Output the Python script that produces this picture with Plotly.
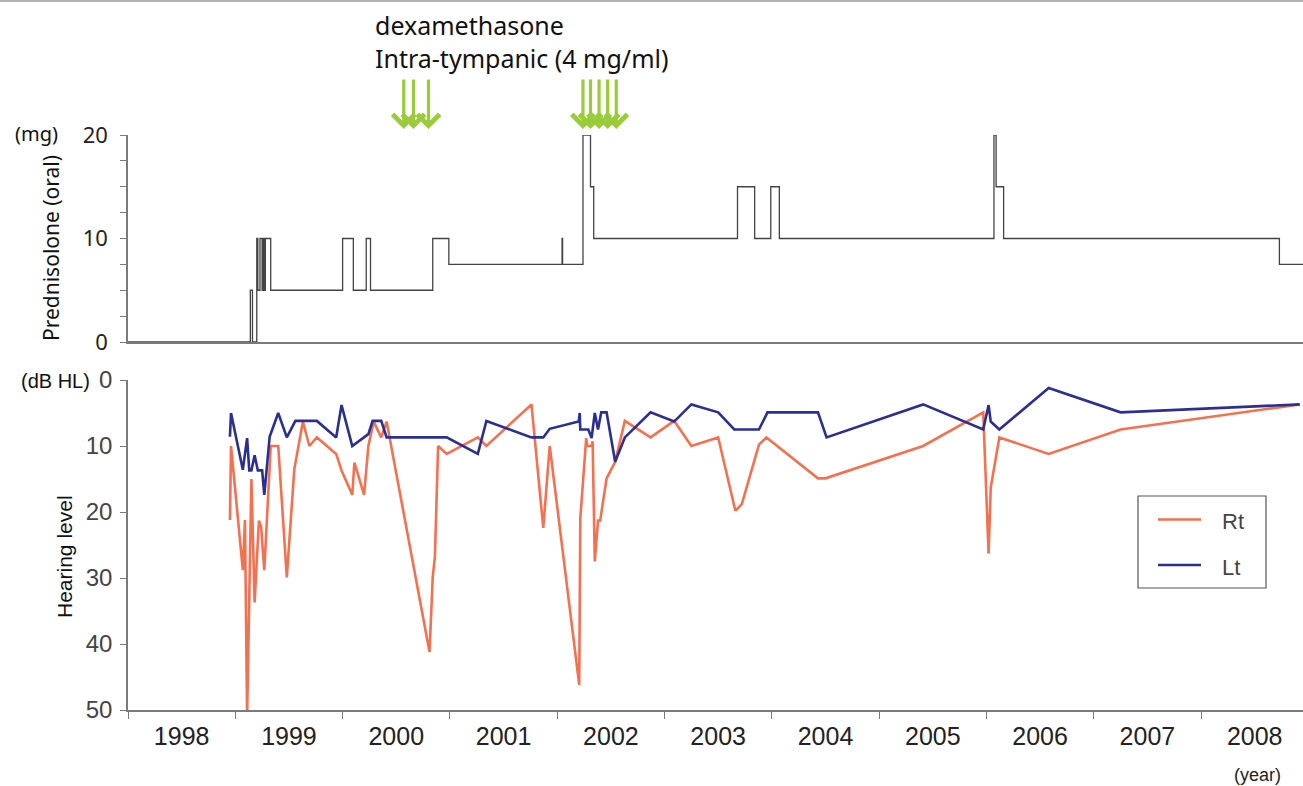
import plotly.graph_objects as go

W, H = 1303, 786

# ---------------- data ----------------
years = list(range(1998, 2009))
year_labels = [str(y) for y in years]

# oral prednisolone (mg), step changes
pred_year = [1998.00, 1999.14, 1999.16, 1999.20, 1999.21, 1999.23, 1999.25, 1999.26, 1999.27, 1999.28, 1999.33,
             2000.00, 2000.10, 2000.22, 2000.26, 2000.84, 2000.99, 2002.045, 2002.05, 2002.24, 2002.31, 2002.34,
             2003.68, 2003.84, 2003.99, 2004.07, 2006.07, 2006.09, 2006.16, 2008.73, 2008.95]
pred_mg = [0, 5, 0, 10, 5, 10, 5, 10, 5, 10, 5,
           10, 5, 10, 5, 10, 7.5, 10, 7.5, 20, 15, 10,
           15, 10, 15, 10, 20, 15, 10, 7.5, 7.5]

# hearing level, right ear (dB HL)
rt_year = [1998.95, 1998.96, 1999.07, 1999.09, 1999.11, 1999.15, 1999.18, 1999.22, 1999.24, 1999.27,
           1999.33, 1999.40, 1999.48, 1999.55, 1999.63, 1999.69, 1999.76, 1999.94, 1999.99, 2000.09,
           2000.11, 2000.20, 2000.24, 2000.29, 2000.36, 2000.41, 2000.81, 2000.84, 2000.86, 2000.89,
           2000.97, 2001.26, 2001.34, 2001.76, 2001.87, 2001.93, 2002.205, 2002.215, 2002.27, 2002.28,
           2002.32, 2002.33, 2002.35, 2002.38, 2002.40, 2002.46, 2002.54, 2002.63, 2002.87, 2003.09,
           2003.25, 2003.50, 2003.66, 2003.72, 2003.88, 2003.95, 2004.43, 2004.50, 2005.41, 2005.97,
           2006.02, 2006.04, 2006.12, 2006.58, 2007.25, 2008.92]
rt_db = [21.2, 10.0, 28.8, 21.2, 51.0, 15.0, 33.7, 21.3, 22.2, 28.8,
         10.0, 10.0, 29.9, 13.5, 6.3, 10.0, 8.7, 11.2, 13.7, 17.4,
         12.5, 17.4, 10.0, 6.3, 8.7, 6.3, 41.2, 29.8, 26.8, 10.0,
         11.2, 8.7, 10.0, 3.7, 22.4, 10.0, 46.2, 21.0, 8.8, 10.0,
         10.0, 9.3, 27.5, 21.3, 21.3, 14.9, 12.4, 6.2, 8.7, 6.2,
         10.0, 8.7, 19.8, 18.8, 9.8, 8.7, 14.9, 14.9, 10.0, 4.9,
         26.3, 16.3, 8.7, 11.2, 7.5, 3.7]

# hearing level, left ear (dB HL)
lt_year = [1998.95, 1998.96, 1999.07, 1999.11, 1999.13, 1999.15, 1999.18, 1999.21, 1999.25, 1999.27,
           1999.32, 1999.40, 1999.48, 1999.56, 1999.76, 1999.94, 1999.99, 2000.09, 2000.24, 2000.28,
           2000.36, 2000.41, 2000.97, 2001.26, 2001.34, 2001.76, 2001.87, 2001.93, 2002.20, 2002.21,
           2002.215, 2002.29, 2002.32, 2002.35, 2002.38, 2002.41, 2002.46, 2002.54, 2002.63, 2002.87,
           2003.09, 2003.25, 2003.50, 2003.65, 2003.88, 2003.96, 2004.43, 2004.51, 2005.41, 2005.97,
           2006.02, 2006.04, 2006.12, 2006.58, 2007.25, 2008.92]
lt_db = [8.6, 5.0, 13.6, 8.8, 13.7, 13.7, 11.4, 13.7, 13.7, 17.4,
         8.6, 5.0, 8.7, 6.2, 6.2, 8.7, 3.8, 10.0, 8.2, 6.2,
         6.2, 8.7, 8.7, 11.2, 6.2, 8.7, 8.7, 7.4, 6.3, 5.0,
         7.5, 7.5, 8.8, 5.0, 7.5, 4.9, 4.9, 12.4, 8.7, 4.9,
         6.3, 3.7, 4.9, 7.5, 7.5, 4.9, 4.9, 8.7, 3.7, 7.5,
         3.8, 6.3, 7.5, 1.2, 4.9, 3.7]

# intra-tympanic dexamethasone injections
inj_year = [2000.57, 2000.66, 2000.80, 2002.24, 2002.31, 2002.39, 2002.47, 2002.55]

series_names = ["Rt", "Lt"]

# ---------------- styles ----------------
RT_COLOR = "#F4714F"
LT_COLOR = "#2B2F8F"
PRED_COLOR = "#444444"
ARROW_COLOR = "#9ACB3A"
AXIS_COLOR = "#7a7a7a"
JP_FONT = "Noto Sans"
EN_FONT = "Liberation Sans"

X0_PX = 128


def px_x(p):
    return p / W


def px_y(p):
    return 1 - p / H


fig = go.Figure()

fig.add_trace(go.Scatter(x=pred_year, y=pred_mg, mode="lines",
                         line=dict(color=PRED_COLOR, width=1.3, shape="hv"),
                         xaxis="x", yaxis="y", showlegend=False, hoverinfo="skip"))
fig.add_trace(go.Scatter(x=rt_year, y=rt_db, mode="lines", name=series_names[0],
                         line=dict(color=RT_COLOR, width=2.6), xaxis="x2", yaxis="y2", showlegend=False))
fig.add_trace(go.Scatter(x=lt_year, y=lt_db, mode="lines", name=series_names[1],
                         line=dict(color=LT_COLOR, width=2.6), xaxis="x2", yaxis="y2", showlegend=False))

xrange = [1998, 2008.95]
xdom = [px_x(X0_PX), 1]

fig.update_layout(
    width=W, height=H, margin=dict(l=0, r=0, t=0, b=0, autoexpand=False),
    paper_bgcolor="white", plot_bgcolor="white", showlegend=False,
    xaxis=dict(domain=xdom, range=xrange, anchor="y", showgrid=False, zeroline=False, automargin=False,
               showline=True, linecolor=AXIS_COLOR, linewidth=1.5, ticks="", showticklabels=False),
    yaxis=dict(domain=[px_y(342), px_y(135)], range=[0, 20], anchor="x", showgrid=False, zeroline=False,
               automargin=False, showline=True, linecolor=AXIS_COLOR, linewidth=1.5,
               tickmode="array", tickvals=[0, 10, 20], ticks="outside", ticklen=6, tickcolor=AXIS_COLOR,
               ticklabelstandoff=8,
               minor=dict(tickmode="array", tickvals=[2.5, 5, 7.5, 12.5, 15, 17.5], ticks="outside",
                          ticklen=6, tickcolor=AXIS_COLOR),
               tickfont=dict(family=JP_FONT, size=22, color="#222")),
    xaxis2=dict(domain=xdom, range=xrange, anchor="y2", showgrid=False, zeroline=False, automargin=False,
                showline=True, linecolor=AXIS_COLOR, linewidth=1.5,
                tickmode="array", tickvals=[y + 0.5 for y in years], ticktext=year_labels, ticks="",
                ticklabelstandoff=3,
                minor=dict(tickmode="array", tickvals=years, ticks="outside", ticklen=7, tickcolor=AXIS_COLOR),
                tickfont=dict(family=EN_FONT, size=25, color="#222")),
    yaxis2=dict(domain=[px_y(710), px_y(380)], range=[50, 0], anchor="x2", showgrid=False, zeroline=False,
                automargin=False, showline=True, linecolor=AXIS_COLOR, linewidth=1.5,
                tickmode="array", tickvals=[0, 10, 20, 30, 40, 50], ticks="outside", ticklen=6,
                ticklabelstandoff=3,
                tickcolor=AXIS_COLOR, tickfont=dict(family=EN_FONT, size=24, color="#444")),
)

annotations = []
# injection arrows
for yr in inj_year:
    annotations.append(dict(x=yr, y=px_y(129), xref="x", yref="paper", ax=0, ay=-51,
                            text="", showarrow=True, arrowhead=4, arrowsize=1.35, arrowwidth=3.2,
                            arrowcolor=ARROW_COLOR, standoff=0))
annotations += [
    dict(x=px_x(373), y=px_y(42), xref="paper", yref="paper",
         text="dexamethasone<br>Intra-tympanic (4 mg/ml)", showarrow=False, align="left",
         xanchor="left", yanchor="middle", font=dict(family=JP_FONT, size=25, color="#111")),
    dict(x=px_x(36), y=px_y(133), xref="paper", yref="paper", text="(mg)", showarrow=False,
         xanchor="center", yanchor="middle", font=dict(family=JP_FONT, size=20, color="#111")),
    dict(x=px_x(51), y=px_y(248), xref="paper", yref="paper", text="Prednisolone (oral)", showarrow=False,
         textangle=-90, xanchor="center", yanchor="middle", font=dict(family=JP_FONT, size=21, color="#111")),
    dict(x=px_x(55), y=px_y(381), xref="paper", yref="paper", text="(dB HL)", showarrow=False,
         xanchor="center", yanchor="middle", font=dict(family=EN_FONT, size=20, color="#111")),
    dict(x=px_x(64), y=px_y(557), xref="paper", yref="paper", text="Hearing level", showarrow=False,
         textangle=-90, xanchor="center", yanchor="middle", font=dict(family=EN_FONT, size=21, color="#111")),
    dict(x=px_x(1257), y=px_y(775), xref="paper", yref="paper", text="(year)", showarrow=False,
         xanchor="center", yanchor="middle", font=dict(family=EN_FONT, size=18, color="#222")),
]

# legend (box, sample lines and labels)
legend_rows = [(519.5, RT_COLOR), (565, LT_COLOR)]
shapes = [
    dict(type="line", xref="paper", yref="paper", x0=0, x1=1, y0=px_y(1), y1=px_y(1),
         line=dict(color="#999", width=1.5)),
    dict(type="rect", xref="paper", yref="paper", x0=px_x(1138), x1=px_x(1266), y0=px_y(588), y1=px_y(496),
         line=dict(color="#555", width=1.2), fillcolor="white"),
]
for (ypix, col), name in zip(legend_rows, series_names):
    shapes.append(dict(type="line", xref="paper", yref="paper", x0=px_x(1158), x1=px_x(1201),
                       y0=px_y(ypix), y1=px_y(ypix), line=dict(color=col, width=2.6)))
    annotations.append(dict(x=px_x(1220), y=px_y(ypix + 2), xref="paper", yref="paper", text=name,
                            showarrow=False, xanchor="left", yanchor="middle",
                            font=dict(family=EN_FONT, size=22, color="#444")))

fig.update_layout(annotations=annotations, shapes=shapes)

fig.write_html("out.html", config={"displayModeBar": False},
               post_script="document.body.style.margin='0px';")
